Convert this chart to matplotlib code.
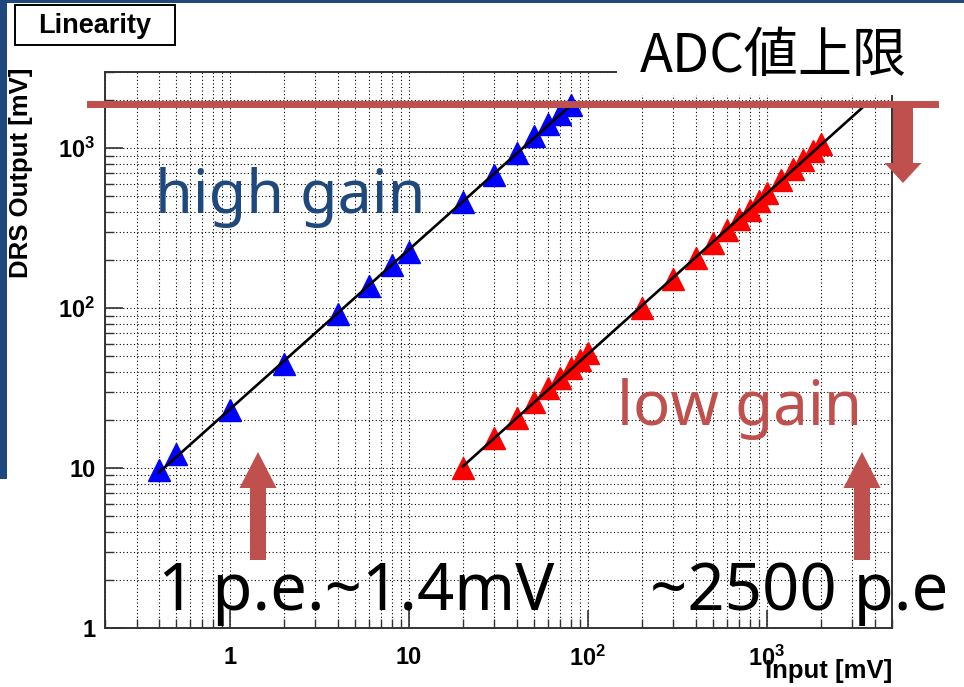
import numpy as np
import matplotlib
matplotlib.use("Agg")
import matplotlib.pyplot as plt
import matplotlib.transforms as mtransforms
from matplotlib.patches import Rectangle, Polygon
from matplotlib.ticker import LogLocator, NullFormatter

plt.rcParams['mathtext.fontset'] = 'custom'
plt.rcParams['mathtext.rm'] = 'Liberation Sans:bold'
plt.rcParams['mathtext.it'] = 'Liberation Sans:bold'
plt.rcParams['mathtext.bf'] = 'Liberation Sans:bold'

W, H = 964, 687

# input [mV] vs DRS output [mV]
high_in = [0.4, 0.5, 1, 2, 4, 6, 8, 10, 20, 30, 40, 50, 60, 70, 80]
high_out = [9.7, 12.2, 23, 45, 92, 138, 185, 226, 460, 685, 940, 1190, 1420, 1650, 1860]
low_in = [20, 30, 40, 50, 60, 70, 80, 90, 100, 200, 300, 400, 500, 600, 700,
          800, 900, 1000, 1200, 1400, 1600, 1800, 2000]
low_out = [10, 15.4, 20.6, 25.8, 31.5, 36.8, 42, 47.5, 52.5, 101, 152, 205, 256,
           308, 362, 414, 470, 524, 632, 738, 846, 955, 1065]
low_fit_end = 3600
adc_limit = 1900

x_ticks = [1, 10, 100, 1000]
x_ticklabels = ['1', '10', '$10^{2}$', '$10^{3}$']
y_ticks = [1, 10, 100, 1000]
y_ticklabels = ['1', '10', '$10^{2}$', '$10^{3}$']

ACCENT_RED = '#C0504D'
ACCENT_BLUE = '#1F497D'
JP = ['Noto Sans CJK JP', 'DejaVu Sans']
LATIN = ['Noto Sans', 'DejaVu Sans']

fig = plt.figure(figsize=(W / 100, H / 100), dpi=100)
fig.patch.set_facecolor('white')
# pixel coords, origin top-left
px = mtransforms.Affine2D().scale(1 / W, -1 / H).translate(0, 1) + fig.transFigure

ax = fig.add_axes([105 / W, 1 - 628 / H, (892 - 105) / W, (628 - 72) / H])
ax.set_xscale('log')
ax.set_yscale('log')
ax.set_xlim(0.2, 5000)
ax.set_ylim(1, 3000)

for loc in [ax.xaxis, ax.yaxis]:
    loc.set_minor_locator(LogLocator(base=10, subs=np.arange(2, 10)))
    loc.set_minor_formatter(NullFormatter())
ax.set_xticks(x_ticks)
ax.set_xticklabels(x_ticklabels)
ax.set_yticks(y_ticks)
ax.set_yticklabels(y_ticklabels)
for lab in ax.get_xticklabels() + ax.get_yticklabels():
    lab.set_fontfamily('Liberation Sans')
    lab.set_fontweight('bold')
    lab.set_fontsize(17)

ax.tick_params(which='major', direction='in', length=13, width=1.2, color='#333333', top=False, right=False)
ax.tick_params(which='minor', direction='in', length=6.5, width=1.0, color='#333333', top=False, right=False)
ax.tick_params(axis='x', which='major', pad=13)
ax.tick_params(axis='y', which='major', pad=7)
ax.grid(which='both', color='black', linestyle=(0, (1, 2.2)), linewidth=0.8)
ax.set_axisbelow(True)
for sp in ax.spines.values():
    sp.set_color('#333333')
    sp.set_linewidth(1.4)

# data
ax.plot(high_in, high_out, linestyle='none', marker='^', ms=16.5, color='blue', mec='blue', zorder=3)
ax.plot(low_in, low_out, linestyle='none', marker='^', ms=16.5, color='red', mec='red', zorder=3)

# straight-line fits in log-log space
hp = np.polyfit(np.log10(high_in), np.log10(high_out), 1)
lp = np.polyfit(np.log10(low_in), np.log10(low_out), 1)
hx = np.array([min(high_in), max(high_in)])
lx = np.array([min(low_in), low_fit_end])
ax.plot(hx, 10 ** np.polyval(hp, np.log10(hx)), color='black', lw=1.9, zorder=4)
ax.plot(lx, 10 ** np.polyval(lp, np.log10(lx)), color='black', lw=1.9, zorder=4)

# axis titles
fig.text(892, 671, 'Input [mV]', transform=px, ha='right', va='center',
         fontsize=18.5, fontweight='bold', family='Liberation Sans', zorder=5)
fig.text(21, 68, 'DRS Output [mV]', transform=px, ha='center', va='top', rotation=90,
         fontsize=18.5, fontweight='bold', family='Liberation Sans')

# title box
fig.patches.append(Rectangle((15, 5), 160, 40, transform=px, facecolor='white',
                             edgecolor='black', lw=1.4, zorder=5))
fig.text(95, 26, 'Linearity', transform=px, ha='center', va='center',
         fontsize=19.5, fontweight='bold', family='Liberation Sans', zorder=6)

# slide decorations
fig.patches.append(Rectangle((0, 0), 7, 479, transform=px, facecolor=ACCENT_BLUE, lw=0, zorder=5))
fig.patches.append(Rectangle((0, 0), W, 2.5, transform=px, facecolor=ACCENT_BLUE, lw=0, zorder=5))

# white box behind ADC text covers the frame corner
fig.patches.append(Rectangle((617, 3), 347, 92, transform=px, facecolor='white', lw=0, zorder=5))
fig.text(640, 72, 'ADC値上限', transform=px, ha='left', va='baseline',
         fontsize=39, family=JP, color='black', zorder=6)

# ADC limit line
blend = mtransforms.blended_transform_factory(px, ax.transData)
fig.lines.append(plt.Line2D([90, 935], [adc_limit, adc_limit], transform=blend,
                            color=ACCENT_RED, lw=5, zorder=6))


def block_arrow(xc, y_tail, y_tip, shaft_w, head_w, head_len):
    d = 1 if y_tip > y_tail else -1
    yb = y_tip - d * head_len
    pts = [(xc - shaft_w / 2, y_tail), (xc - shaft_w / 2, yb), (xc - head_w / 2, yb),
           (xc, y_tip), (xc + head_w / 2, yb), (xc + shaft_w / 2, yb), (xc + shaft_w / 2, y_tail)]
    fig.patches.append(Polygon(pts, closed=True, transform=px, facecolor=ACCENT_RED,
                               edgecolor='none', zorder=6))


block_arrow(903, 103, 183, 20, 37, 20)
block_arrow(258, 560, 452, 16, 37, 36)
block_arrow(862, 560, 452, 16, 37, 36)

fig.text(155, 213, 'high gain', transform=px, ha='left', va='baseline',
         fontsize=44, family=LATIN, color=ACCENT_BLUE, zorder=6)
fig.text(617, 425, 'low gain', transform=px, ha='left', va='baseline',
         fontsize=44.5, family=LATIN, color=ACCENT_RED, zorder=6)
fig.text(158, 610, '1 p.e.~1.4mV', transform=px, ha='left', va='baseline',
         fontsize=47, family=LATIN, color='black', zorder=6)
fig.text(650, 610, '~2500 p.e', transform=px, ha='left', va='baseline',
         fontsize=47, family=LATIN, color='black', zorder=6)

fig.savefig('out.png', dpi=100)
plt.close(fig)
